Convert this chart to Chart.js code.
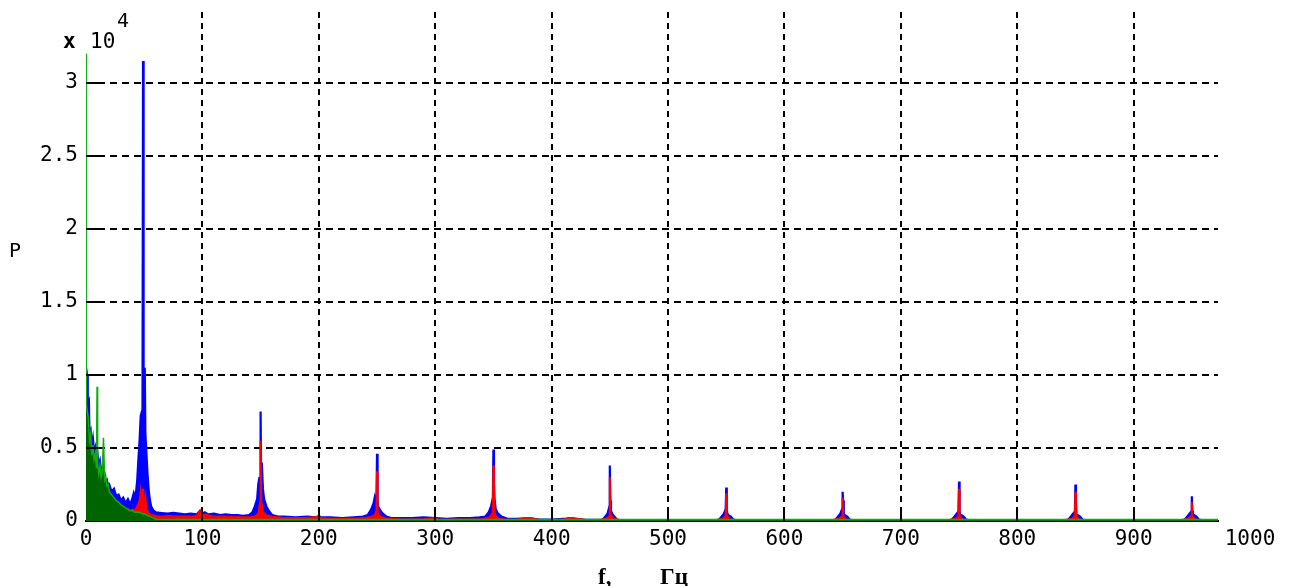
<!DOCTYPE html>
<html>
<head>
<meta charset="utf-8">
<script src="https://cdn.jsdelivr.net/npm/chart.js@4.4.0/dist/chart.umd.min.js"></script>
<style>
  html, body { margin: 0; padding: 0; background: #fff; }
  #wrap { width: 1295px; height: 586px; }
</style>
</head>
<body>
<div id="wrap"><canvas id="spec"></canvas></div>
<script>
// frequency (Hz) and power (x 10^4)
var blueF = [0, 1, 1.5, 2.5, 3, 4, 5, 6, 7, 8, 9, 10, 11, 12, 13, 14, 15, 16, 17, 18, 19, 20,
  22, 24, 26, 28, 30, 32, 34, 36, 38, 40, 41, 42, 43, 44, 45, 46, 47, 48, 48.5, 49, 49.5, 50, 50.5, 51, 52, 53, 54, 55, 56, 58, 60,
  65, 70, 75, 80, 85, 90, 95, 98, 100, 102, 105, 110, 115, 120, 125, 130, 135, 140,
  143, 145, 147, 148, 149, 149.5, 150, 150.5, 151, 152, 153, 155, 157, 160, 165,
  170, 180, 190, 198, 200, 202, 210, 220, 230, 238,
  242, 245, 247, 248, 249, 249.5, 250, 250.5, 251, 253, 255, 258, 262,
  270, 280, 290, 300, 310, 320, 330, 338,
  343, 346, 348, 349, 349.5, 350, 350.5, 351, 352, 354, 357, 362,
  370, 380, 390, 400, 410, 420, 430, 440,
  444, 446, 448, 449, 449.5, 450, 450.5, 451, 452, 454, 456, 460,
  480, 500, 520, 540, 544, 546, 548, 549, 549.5, 550, 550.5, 551, 552, 554, 556, 560,
  580, 600, 620, 640, 644, 646, 648, 649, 649.5, 650, 650.5, 651, 652, 654, 656, 660,
  680, 700, 720, 740, 744, 746, 748, 749, 749.5, 750, 750.5, 751, 752, 754, 756, 760,
  780, 800, 820, 840, 844, 846, 848, 849, 849.5, 850, 850.5, 851, 852, 854, 856, 860,
  880, 900, 920, 940, 944, 946, 948, 949, 949.5, 950, 950.5, 951, 952, 954, 956, 960, 975];
var blueP = [1.05, 1.0, 0.8, 0.82, 0.6, 0.62, 0.5, 0.56, 0.47, 0.5, 0.42, 0.45, 0.38, 0.41, 0.34, 0.36, 0.3, 0.32, 0.27, 0.28, 0.24, 0.25,
  0.2, 0.22, 0.17, 0.18, 0.14, 0.16, 0.12, 0.15, 0.11, 0.16, 0.19, 0.16, 0.2, 0.28, 0.42, 0.55, 0.72, 0.75, 0.6, 3.15, 0.9, 0.7, 1.05, 0.6, 0.45, 0.3, 0.2, 0.14, 0.1, 0.07, 0.06,
  0.055, 0.05, 0.055, 0.05, 0.045, 0.05, 0.045, 0.07, 0.05, 0.06, 0.045, 0.05, 0.04, 0.045, 0.04, 0.04, 0.035, 0.04,
  0.06, 0.1, 0.15, 0.25, 0.3, 0.2, 0.75, 0.25, 0.4, 0.22, 0.15, 0.1, 0.07, 0.04, 0.03,
  0.03, 0.025, 0.03, 0.025, 0.035, 0.025, 0.025, 0.02, 0.025, 0.03,
  0.04, 0.08, 0.12, 0.16, 0.12, 0.1, 0.46, 0.14, 0.1, 0.07, 0.05, 0.03, 0.02,
  0.02, 0.02, 0.025, 0.02, 0.015, 0.02, 0.02, 0.025,
  0.03, 0.06, 0.1, 0.14, 0.1, 0.49, 0.26, 0.15, 0.08, 0.05, 0.03, 0.015,
  0.015, 0.02, 0.01, 0.01, 0.015, 0.015, 0.008, 0.008,
  0.01, 0.03, 0.05, 0.08, 0.06, 0.38, 0.14, 0.07, 0.05, 0.03, 0.01, 0.005,
  0.005, 0.005, 0.005, 0.005, 0.01, 0.03, 0.05, 0.07, 0.05, 0.23, 0.08, 0.05, 0.04, 0.03, 0.01, 0.005,
  0.005, 0.005, 0.005, 0.005, 0.01, 0.03, 0.05, 0.07, 0.05, 0.2, 0.14, 0.05, 0.04, 0.03, 0.01, 0.005,
  0.005, 0.005, 0.005, 0.005, 0.01, 0.03, 0.05, 0.06, 0.04, 0.27, 0.07, 0.04, 0.04, 0.03, 0.01, 0.005,
  0.005, 0.005, 0.005, 0.005, 0.01, 0.03, 0.05, 0.06, 0.04, 0.25, 0.13, 0.04, 0.04, 0.03, 0.01, 0.005,
  0.005, 0.005, 0.005, 0.005, 0.01, 0.03, 0.05, 0.06, 0.04, 0.17, 0.07, 0.04, 0.04, 0.03, 0.01, 0.005, 0.005];

var redF = [0, 1, 2, 3, 4, 5, 6, 7, 8, 10, 12, 14, 16, 18, 20,
  22, 24, 26, 28, 30, 32, 34, 36, 38, 40, 42, 44, 46, 47, 48, 49, 50, 51, 52, 54, 56, 58, 60,
  65, 70, 80, 90, 95, 98, 100, 102, 110, 120, 130, 140,
  145, 148, 149, 149.5, 150, 150.5, 151, 152, 155, 160,
  170, 180, 190, 200, 202, 210, 220, 230, 240,
  245, 248, 249, 249.5, 250, 250.5, 251, 253, 258,
  270, 280, 290, 300, 302, 310, 320, 330, 340,
  346, 349, 349.5, 350, 350.5, 351, 352, 355, 360,
  370, 378, 382, 390, 400, 410, 414, 418, 430, 440,
  447, 449, 449.5, 450, 450.5, 451, 453, 460,
  500, 540, 547, 549, 549.5, 550, 550.5, 551, 553, 560,
  600, 640, 647, 649, 649.5, 650, 650.5, 651, 653, 660,
  700, 740, 747, 749, 749.5, 750, 750.5, 751, 753, 760,
  800, 840, 847, 849, 849.5, 850, 850.5, 851, 853, 860,
  900, 940, 947, 949, 949.5, 950, 950.5, 951, 953, 960, 975];
var redP = [0.55, 0.5, 0.48, 0.35, 0.45, 0.3, 0.4, 0.25, 0.35, 0.3, 0.28, 0.25, 0.22, 0.2, 0.17,
  0.15, 0.14, 0.12, 0.11, 0.1, 0.09, 0.08, 0.08, 0.07, 0.08, 0.07, 0.1, 0.14, 0.2, 0.12, 0.22, 0.1, 0.16, 0.08, 0.05, 0.04, 0.04, 0.035,
  0.03, 0.035, 0.03, 0.03, 0.035, 0.07, 0.04, 0.045, 0.03, 0.03, 0.025, 0.025,
  0.03, 0.05, 0.1, 0.08, 0.55, 0.1, 0.12, 0.06, 0.04, 0.03,
  0.02, 0.02, 0.02, 0.03, 0.02, 0.015, 0.015, 0.015, 0.02,
  0.03, 0.04, 0.06, 0.05, 0.34, 0.06, 0.05, 0.03, 0.015,
  0.01, 0.01, 0.012, 0.02, 0.01, 0.008, 0.01, 0.01, 0.012,
  0.02, 0.05, 0.04, 0.38, 0.06, 0.06, 0.03, 0.015, 0.008,
  0.008, 0.02, 0.02, 0.006, 0.006, 0.008, 0.02, 0.02, 0.005, 0.005,
  0.015, 0.03, 0.02, 0.3, 0.03, 0.04, 0.015, 0.004,
  0.004, 0.004, 0.015, 0.03, 0.02, 0.19, 0.03, 0.03, 0.01, 0.004,
  0.004, 0.004, 0.015, 0.03, 0.02, 0.16, 0.03, 0.03, 0.01, 0.004,
  0.004, 0.004, 0.015, 0.03, 0.02, 0.22, 0.03, 0.03, 0.01, 0.004,
  0.004, 0.004, 0.015, 0.03, 0.02, 0.2, 0.03, 0.03, 0.01, 0.004,
  0.004, 0.004, 0.015, 0.03, 0.02, 0.13, 0.03, 0.03, 0.01, 0.004, 0.004];

var greenF = [0, 0.3, 1, 2, 3, 4, 5, 6, 7, 8, 9, 9.5, 10, 11, 12, 13, 14, 15, 16, 17, 18, 19, 20,
  22, 24, 26, 28, 30, 32, 34, 36, 38, 40, 42, 44, 46, 48, 50, 52, 55, 58, 60, 80, 200, 400, 600, 800, 975];
var greenP = [3.2, 0.8, 0.76, 0.7, 0.55, 0.6, 0.45, 0.52, 0.42, 0.46, 0.36, 0.92, 0.4, 0.32, 0.38, 0.3, 0.33, 0.57, 0.28, 0.3, 0.24, 0.25, 0.2,
  0.18, 0.16, 0.14, 0.13, 0.11, 0.1, 0.09, 0.08, 0.07, 0.07, 0.06, 0.06, 0.06, 0.05, 0.05, 0.04, 0.03, 0.02, 0.012, 0.01, 0.01, 0.01, 0.01, 0.01, 0.01];

var xTicks = [0, 100, 200, 300, 400, 500, 600, 700, 800, 900, 1000];
var xMax = 972.5;   // the plot is cut off just before 1000
var yMax = 3.486;

function pts(fs, ps) {
  return fs.map(function (f, i) { return {x: f, y: ps[i]}; });
}

var mono = '"DejaVu Sans Mono", "Liberation Mono", monospace';

// matlab-like inner ticks and the axis annotations
var extras = {
  id: 'extras',
  afterDraw: function (chart) {
    var ctx = chart.ctx, a = chart.chartArea, sx = chart.scales.x, sy = chart.scales.y;
    ctx.save();
    ctx.strokeStyle = '#000';
    ctx.lineWidth = 2;
    sy.ticks.forEach(function (t) {
      if (t.value === 0) return;
      var y = Math.round(sy.getPixelForValue(t.value));
      ctx.beginPath(); ctx.moveTo(a.left, y); ctx.lineTo(a.left + 12, y); ctx.stroke();
    });
    sx.ticks.forEach(function (t) {
      if (t.value === 0 || t.value > xMax) return;
      var x = Math.round(sx.getPixelForValue(t.value));
      ctx.beginPath(); ctx.moveTo(x, a.bottom); ctx.lineTo(x, a.bottom - 13); ctx.stroke();
    });
    ctx.fillStyle = '#000';
    ctx.textBaseline = 'middle';
    ctx.textAlign = 'left';
    ctx.font = 'bold 21px ' + mono;
    ctx.fillText('x', 63, 43);
    ctx.font = '21px ' + mono;
    ctx.fillText('10', 90, 43);
    ctx.font = '20px ' + mono;
    ctx.fillText('4', 117, 22);
    ctx.fillText('P', 9, 252);
    ctx.font = 'bold 23px "Liberation Serif", "DejaVu Serif", serif';
    ctx.textBaseline = 'alphabetic';
    ctx.fillText('f,', 598, 584);
    ctx.fillText('Гц', 660, 584);
    ctx.restore();
  }
};

function plainLabel(v) { return String(v); }

var chart = new Chart(document.getElementById('spec'), {
  type: 'line',
  data: {
    datasets: [
      {
        label: 'green',
        data: pts(greenF, greenP),
        borderColor: 'rgb(20,170,20)',
        backgroundColor: 'rgb(0,100,0)',
        borderWidth: 1.5,
        fill: 'origin'
      },
      {
        label: 'red',
        data: pts(redF, redP),
        borderColor: '#ff0000',
        backgroundColor: '#ff0000',
        borderWidth: 2,
        fill: 'origin'
      },
      {
        label: 'blue',
        data: pts(blueF, blueP),
        borderColor: '#0000ff',
        backgroundColor: '#0000ff',
        borderWidth: 2.2,
        fill: 'origin'
      }
    ]
  },
  options: {
    responsive: true,
    maintainAspectRatio: false,
    animation: false,
    events: [],
    layout: { padding: { left: 0, right: 77, top: 12, bottom: 0 } },
    elements: {
      point: { radius: 0 },
      line: { tension: 0 }
    },
    plugins: {
      legend: { display: false },
      tooltip: { enabled: false }
    },
    scales: {
      x: {
        type: 'linear',
        min: 0,
        max: xMax,
        afterBuildTicks: function (s) {
          s.ticks = xTicks.map(function (v) { return {value: v}; });
        },
        afterFit: function (s) {
          s.height = 65;
          s.paddingLeft = 0; s.paddingRight = 0;
        },
        grid: {
          drawTicks: false,
          lineWidth: 2,
          color: function (c) {
            return (c.tick && (c.tick.value === 0 || c.tick.value > xMax)) ? 'rgba(0,0,0,0)' : '#000';
          }
        },
        border: { display: true, color: '#000', width: 2, dash: [6, 5] },
        ticks: {
          autoSkip: false,
          maxRotation: 0,
          padding: 6,
          color: '#000',
          font: { family: mono, size: 21 },
          callback: plainLabel
        }
      },
      y: {
        min: 0,
        max: yMax,
        afterBuildTicks: function (s) {
          s.ticks = s.ticks.filter(function (t) { return t.value <= 3.001; });
        },
        afterFit: function (s) {
          s.width = 86;
          s.paddingTop = 0; s.paddingBottom = 0;
        },
        grid: {
          drawTicks: false,
          lineWidth: 2,
          color: function (c) {
            return (c.tick && c.tick.value === 0) ? 'rgba(0,0,0,0)' : '#000';
          }
        },
        border: { display: false, dash: [7, 5] },
        ticks: {
          stepSize: 0.5,
          padding: 8,
          color: '#000',
          font: { family: mono, size: 21 },
          callback: plainLabel
        }
      }
    }
  },
  plugins: [extras]
});
</script>
</body>
</html>
